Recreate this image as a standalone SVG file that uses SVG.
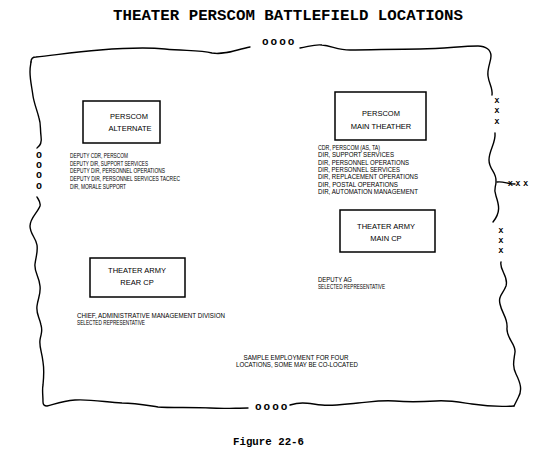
<svg xmlns="http://www.w3.org/2000/svg" width="550" height="459" viewBox="0 0 550 459">
<style>
.bd{fill:none;stroke:#000;stroke-width:1.4;stroke-linecap:round;stroke-linejoin:round}
.box{fill:#fff;stroke:#000;stroke-width:1.5}
.lb{font-family:"Liberation Sans",Arial,sans-serif;font-size:7.5px;fill:#000;text-anchor:middle}
.ls{font-family:"Liberation Sans",Arial,sans-serif;font-size:6.5px;fill:#000}
.mono{font-family:"Liberation Mono","Courier New",monospace;font-weight:bold;fill:#000}
.sym{font-family:"Liberation Mono","Courier New",monospace;font-weight:bold;font-size:8px;fill:#000;text-anchor:middle}
</style>
<rect width="550" height="459" fill="#fff"/>
<text class="mono" x="113" y="20" font-size="15.5" textLength="350" lengthAdjust="spacingAndGlyphs">THEATER PERSCOM BATTLEFIELD LOCATIONS</text>

<g id="boundary">
<path class="bd" d="M31,62 C31,58 33,57 36,57 C55,55 75,52 100,50 C125,48 145,47 165,49 C185,51 200,50 212,53 C225,55 235,50 250,47"/>
<path class="bd" d="M300,48 C308,47 314,44 322,45 C332,46 338,50 350,50 C370,50 395,49 420,49 C445,49 460,46 478,46 C486,46 491,50 491,56 C491,62 487,68 488,76 C489,84 493,88 492,95"/>
<path class="bd" d="M495,133 C496,143 489,150 489,160 C489,170 497,172 496,182 C496,188 493,188 496,196 C499,205 501,212 493,222"/>
<path class="bd" d="M497,182 C503,181 508,184 515,184"/>
<path class="bd" d="M501,262 C499,270 509,276 506,286 C503,294 498,296 500,304 C502,314 508,318 507,328 C506,338 516,344 515,352 C514,360 512,366 516,374 C520,382 523,390 518,398 C516,402 515,404 514,406"/>
<path class="bd" d="M514,406 C500,407 485,406 472,404 C458,402 448,400 436,401 C420,402 405,402 395,401 C380,400 370,402 358,403 C345,404 335,406 322,405 C310,404 303,401 290,405"/>
<path class="bd" d="M248,408 C235,408 225,409 210,408 C195,407 170,408 158,407 C145,405 135,403 122,403 C105,402 90,399 75,400 C62,401 55,404 47,406 C44,406 43,405 43,402 C43,395 42,390 43,385 C44,375 44,368 43,362 C42,352 39,347 40,340 C41,333 43,332 41,325 C39,316 36,314 37,306 C38,298 41,294 40,286 C39,276 34,272 35,264 C36,256 38,252 37,245 C36,238 30,234 30,226 C30,218 38,212 40,206 C41,202 38,199 37,197"/>
<path class="bd" d="M37,148 C40,146 42,142 41,136 C40,128 41,124 39,118 C37,110 34,103 33,96 C32,88 30,80 30,72 C30,66 31,63 31,62"/>
<text class="mono" x="262" y="45" font-size="11" letter-spacing="2">oooo</text>
<text class="mono" x="255" y="410" font-size="11" letter-spacing="2">oooo</text>
<text class="mono" x="39" y="158" font-size="10" text-anchor="middle">o</text>
<text class="mono" x="39" y="168" font-size="10" text-anchor="middle">o</text>
<text class="mono" x="39" y="178" font-size="10" text-anchor="middle">o</text>
<text class="mono" x="39" y="189" font-size="10" text-anchor="middle">o</text>
<text class="sym" x="497" y="103">X</text>
<text class="sym" x="497" y="113">X</text>
<text class="sym" x="497" y="124">X</text>
<text class="sym" x="501" y="233">X</text>
<text class="sym" x="501" y="243">X</text>
<text class="sym" x="501" y="253">X</text>
<text class="sym" x="518" y="186" text-anchor="start" textLength="20" lengthAdjust="spacing">X X X</text>
</g>

<g id="connectors"></g>

<g id="node-perscom-alternate">
<rect class="box" x="83" y="101" width="77" height="42"/>
<text class="lb" x="129" y="119" font-size="7">PERSCOM</text>
<text class="lb" x="130" y="131" font-size="7">ALTERNATE</text>
<g class="ls">
<text x="70" y="158" textLength="58" lengthAdjust="spacingAndGlyphs">DEPUTY CDR, PERSCOM</text>
<text x="70" y="165.5" textLength="78" lengthAdjust="spacingAndGlyphs">DEPUTY DIR, SUPPORT SERVICES</text>
<text x="70" y="173" textLength="95" lengthAdjust="spacingAndGlyphs">DEPUTY DIR, PERSONNEL OPERATIONS</text>
<text x="70" y="181" textLength="110" lengthAdjust="spacingAndGlyphs">DEPUTY DIR, PERSONNEL SERVICES TACREC</text>
<text x="70" y="188.5" textLength="56" lengthAdjust="spacingAndGlyphs">DIR, MORALE SUPPORT</text>
</g>
</g>

<g id="node-perscom-main">
<rect class="box" x="335" y="92" width="91" height="48"/>
<text class="lb" x="381" y="116">PERSCOM</text>
<text class="lb" x="381" y="129">MAIN THEATHER</text>
<g class="ls">
<text x="318" y="150" textLength="62" lengthAdjust="spacingAndGlyphs">CDR, PERSCOM (AS, TA)</text>
<text x="318" y="157.3" textLength="76" lengthAdjust="spacingAndGlyphs">DIR, SUPPORT SERVICES</text>
<text x="318" y="164.6" textLength="91" lengthAdjust="spacingAndGlyphs">DIR, PERSONNEL OPERATIONS</text>
<text x="318" y="171.9" textLength="82" lengthAdjust="spacingAndGlyphs">DIR, PERSONNEL SERVICES</text>
<text x="318" y="179.2" textLength="100" lengthAdjust="spacingAndGlyphs">DIR, REPLACEMENT OPERATIONS</text>
<text x="318" y="186.5" textLength="80" lengthAdjust="spacingAndGlyphs">DIR, POSTAL OPERATIONS</text>
<text x="318" y="193.8" textLength="100" lengthAdjust="spacingAndGlyphs">DIR, AUTOMATION  MANAGEMENT</text>
</g>
</g>

<g id="node-army-main-cp">
<rect class="box" x="340" y="210" width="95" height="42"/>
<text class="lb" x="386" y="229">THEATER ARMY</text>
<text class="lb" x="386" y="241">MAIN CP</text>
<g class="ls">
<text x="318" y="282" textLength="34" lengthAdjust="spacingAndGlyphs">DEPUTY AG</text>
<text x="318" y="289" textLength="67" lengthAdjust="spacingAndGlyphs">SELECTED REPRESENTATIVE</text>
</g>
</g>

<g id="node-army-rear-cp">
<rect class="box" x="90" y="258" width="95" height="39"/>
<text class="lb" x="137" y="273" font-size="7">THEATER ARMY</text>
<text class="lb" x="137" y="285" font-size="7">REAR CP</text>
<g class="ls">
<text x="77" y="318" textLength="148" lengthAdjust="spacingAndGlyphs">CHIEF, ADMINISTRATIVE MANAGEMENT DIVISION</text>
<text x="77" y="324.5" textLength="68" lengthAdjust="spacingAndGlyphs">SELECTED REPRESENTATIVE</text>
</g>
</g>

<g class="ls" text-anchor="middle">
<text x="296" y="360" textLength="105" lengthAdjust="spacingAndGlyphs">SAMPLE EMPLOYMENT FOR FOUR</text>
<text x="297" y="367" textLength="122" lengthAdjust="spacingAndGlyphs">LOCATIONS, SOME MAY BE CO-LOCATED</text>
</g>

<text class="mono" x="233" y="445" font-size="11.5" textLength="71" lengthAdjust="spacingAndGlyphs">Figure 22-6</text>
</svg>
